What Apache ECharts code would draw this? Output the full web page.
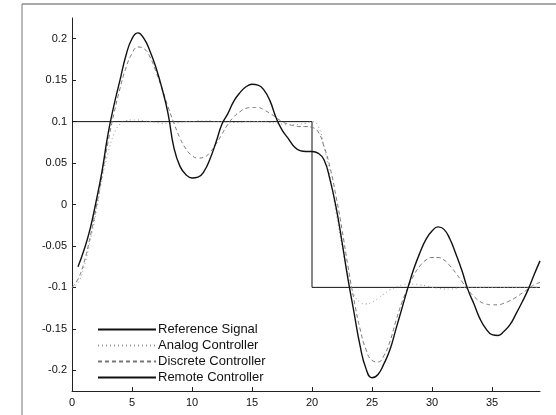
<!DOCTYPE html>
<html>
<head>
<meta charset="utf-8">
<script src="https://cdn.jsdelivr.net/npm/echarts@6/dist/echarts.min.js"></script>
<style>
  html, body { margin: 0; padding: 0; background: #fff; }
  #chart { width: 556px; height: 415px; }
</style>
</head>
<body>
<div id="chart"></div>
<script>
const time = [0, 0.5, 1, 1.5, 2, 2.5, 3, 3.5, 4, 4.5, 5, 5.5, 6, 6.5, 7, 7.5, 8, 8.5, 9, 9.5,
  10, 10.5, 11, 11.5, 12, 12.5, 13, 13.5, 14, 14.5, 15, 15.5, 16, 16.5, 17, 17.5, 18, 18.5, 19, 19.5,
  20, 20.5, 21, 21.5, 22, 22.5, 23, 23.5, 24, 24.5, 25, 25.5, 26, 26.5, 27, 27.5, 28, 28.5, 29, 29.5,
  30, 30.5, 31, 31.5, 32, 32.5, 33, 33.5, 34, 34.5, 35, 35.5, 36, 36.5, 37, 37.5, 38, 38.5, 39];

const referenceT = [0, 20, 20, 39];
const referenceV = [0.1, 0.1, -0.1, -0.1];

const analog = [-0.1, -0.095, -0.075, -0.045, -0.01, 0.03, 0.062, 0.085, 0.097, 0.101, 0.102, 0.102, 0.101, 0.1, 0.099, 0.098, 0.098, 0.098, 0.099, 0.1,
  0.1, 0.101, 0.101, 0.101, 0.1, 0.1, 0.099, 0.099, 0.099, 0.1, 0.1, 0.1, 0.1, 0.099, 0.098, 0.097, 0.096, 0.096, 0.097, 0.098,
  0.1, 0.095, 0.07, 0.035, -0.01, -0.05, -0.085, -0.108, -0.118, -0.12, -0.118, -0.113, -0.108, -0.103, -0.1, -0.097, -0.096, -0.096, -0.097, -0.098,
  -0.1, -0.101, -0.102, -0.102, -0.101, -0.1, -0.1, -0.1, -0.1, -0.1, -0.1, -0.1, -0.1, -0.1, -0.1, -0.1, -0.1, -0.1, -0.1];

const discrete = [-0.1, -0.09, -0.07, -0.04, -0.005, 0.035, 0.075, 0.11, 0.14, 0.165, 0.182, 0.19, 0.188, 0.178, 0.16, 0.14, 0.118, 0.098, 0.08, 0.067,
  0.059, 0.056, 0.057, 0.063, 0.073, 0.085, 0.097, 0.106, 0.112, 0.116, 0.117, 0.117, 0.114, 0.11, 0.105, 0.1, 0.097, 0.095, 0.094, 0.094,
  0.093, 0.088, 0.07, 0.045, 0.01, -0.03, -0.075, -0.115, -0.15, -0.175, -0.188, -0.19, -0.182, -0.165, -0.14, -0.118, -0.1, -0.085, -0.074, -0.067,
  -0.064, -0.064, -0.067, -0.074, -0.083, -0.093, -0.103, -0.111, -0.117, -0.12, -0.121, -0.121, -0.119, -0.116, -0.112, -0.107, -0.102, -0.097, -0.094];

const remote = [null, -0.075, -0.055, -0.03, 0.003, 0.04, 0.085, 0.12, 0.15, 0.18, 0.2, 0.207, 0.2, 0.185, 0.165, 0.14, 0.11, 0.068, 0.046, 0.036,
  0.032, 0.033, 0.04, 0.055, 0.075, 0.097, 0.11, 0.125, 0.135, 0.142, 0.145, 0.144, 0.138, 0.125, 0.105, 0.09, 0.08, 0.07, 0.065, 0.064,
  0.064, 0.062, 0.054, 0.03, -0.003, -0.045, -0.09, -0.13, -0.17, -0.198, -0.209, -0.205, -0.192, -0.175, -0.15, -0.125, -0.1, -0.077, -0.058, -0.042,
  -0.032, -0.027, -0.03, -0.042, -0.06, -0.08, -0.103, -0.12, -0.138, -0.15, -0.157, -0.158, -0.153, -0.145, -0.132, -0.118, -0.103, -0.085, -0.068];

const xTicks = [0, 5, 10, 15, 20, 25, 30, 35];
const yTicks = [-0.2, -0.15, -0.1, -0.05, 0, 0.05, 0.1, 0.15, 0.2];

const seriesNames = ['Reference Signal', 'Analog Controller', 'Discrete Controller', 'Remote Controller'];

function pairs(xs, ys) {
  return xs.map((x, i) => [x, ys[i]]);
}

const font = 'Liberation Sans, Arial, sans-serif';

const option = {
  animation: false,
  backgroundColor: '#fff',
  grid: { left: 72, right: 16, top: 18, bottom: 24 },
  xAxis: {
    type: 'value',
    min: 0,
    max: 39,
    splitLine: { show: false },
    axisLine: { onZero: false, lineStyle: { color: '#222', width: 1 } },
    axisTick: { inside: true, length: 4, customValues: xTicks, lineStyle: { color: '#222' } },
    axisLabel: { customValues: xTicks, color: '#111', fontFamily: font, fontSize: 11, margin: 6 }
  },
  yAxis: {
    type: 'value',
    min: -0.225,
    max: 0.225,
    splitLine: { show: false },
    axisLine: { show: true, onZero: false, lineStyle: { color: '#222', width: 1 } },
    axisTick: { show: true, inside: true, length: 4, customValues: yTicks, lineStyle: { color: '#222' } },
    axisLabel: { customValues: yTicks, color: '#111', fontFamily: font, fontSize: 11, margin: 5 }
  },
  legend: {
    orient: 'vertical',
    left: 97,
    top: 323,
    itemWidth: 58,
    itemHeight: 10,
    itemGap: 3,
    padding: 0,
    itemStyle: { opacity: 0 },
    textStyle: { color: '#111', fontFamily: font, fontSize: 13, padding: [0, 0, 0, -3] },
    data: seriesNames
  },
  series: [
    {
      name: seriesNames[0], type: 'line', symbol: 'none',
      data: pairs(referenceT, referenceV),
      lineStyle: { color: '#111', width: 1 }, itemStyle: { color: '#111' }, z: 2
    },
    {
      name: seriesNames[1], type: 'line', symbol: 'none', smooth: true,
      data: pairs(time, analog),
      lineStyle: { color: '#999', width: 1, type: [1, 3] }, itemStyle: { color: '#999' }, z: 3
    },
    {
      name: seriesNames[2], type: 'line', symbol: 'none', smooth: true,
      data: pairs(time, discrete),
      lineStyle: { color: '#777', width: 1, type: [4, 3] }, itemStyle: { color: '#777' }, z: 4
    },
    {
      name: seriesNames[3], type: 'line', symbol: 'none', smooth: true,
      data: pairs(time, remote),
      lineStyle: { color: '#111', width: 1.4 }, itemStyle: { color: '#111' }, z: 5
    }
  ],
  graphic: [
    { type: 'line', shape: { x1: 22, y1: 4, x2: 556, y2: 4 }, style: { stroke: '#555', lineWidth: 1.2 } },
    { type: 'line', shape: { x1: 22, y1: 4, x2: 22, y2: 415 }, style: { stroke: '#777', lineWidth: 1 } }
  ]
};

const chart = echarts.init(document.getElementById('chart'), null, { renderer: 'canvas' });
chart.setOption(option);
</script>
</body>
</html>
